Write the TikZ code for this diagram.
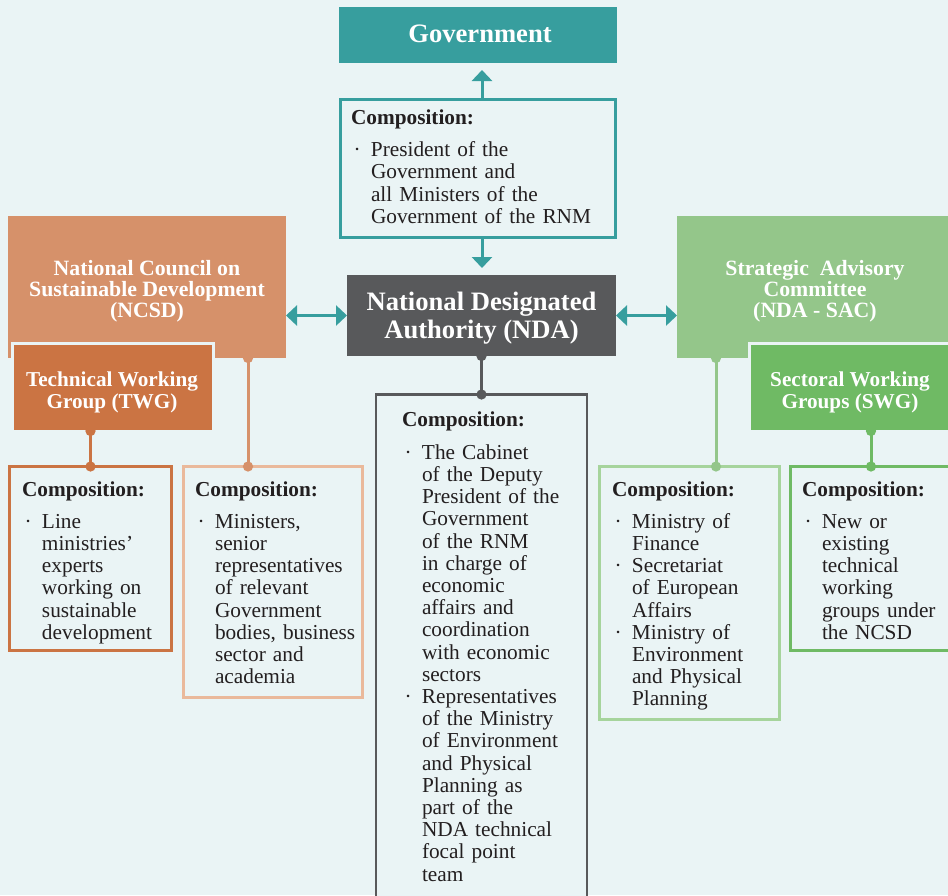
\documentclass[tikz,border=0pt]{standalone}
\usepackage{fontspec}
\setmainfont{Liberation Serif}
\usetikzlibrary{arrows.meta,calc}
\definecolor{bg}{HTML}{EAF4F5}
\definecolor{cteal}{HTML}{379E9E}
\definecolor{cnda}{HTML}{58595B}
\definecolor{cncsd}{HTML}{D6916A}
\definecolor{ctwg}{HTML}{CB7443}
\definecolor{cncsdl}{HTML}{EAB99B}
\definecolor{csac}{HTML}{94C68A}
\definecolor{cswg}{HTML}{6FBA64}
\definecolor{csacl}{HTML}{A6D49C}
\definecolor{ctext}{HTML}{231F20}
\newcommand{\nl}{\hfil\break}
\newcommand{\bitem}[1]{\par\hangindent=20pt\hangafter=1\noindent\makebox[20pt][l]{\hspace{2.5pt}\char"B7}#1\par}
\newcommand{\comphead}[1]{\noindent\textbf{Composition:}\par\vspace{#1}}
\begin{document}
\begin{tikzpicture}[x=1pt,y=-1pt,
  every node/.style={inner sep=0pt, outer sep=0pt},
  box/.style={anchor=north west},
  subbox/.style={box, draw=bg, line width=2.5pt},
  lbl/.style={text=white, align=center, font=\fontsize{21.8}{21}\selectfont\bfseries},
  biglbl/.style={lbl, font=\fontsize{26.6}{28}\selectfont\bfseries},
  sublbl/.style={lbl, font=\fontsize{21.2}{22}\selectfont\bfseries},
  comp/.style={anchor=north west, draw, line width=3pt, fill=bg},
  body/.style={anchor=base west, text width=260pt, font=\fontsize{21.3}{22.2}\selectfont, text=ctext},
  dblarrow/.style={cteal, line width=3pt, {Triangle[width=20pt,length=11pt]}-{Triangle[width=20pt,length=11pt]}},
  uparrow/.style={cteal, line width=3pt, -{Triangle[width=20pt,length=11pt]}, shorten >=7pt},
  conn/.style={line width=3pt, {Circle[length=10pt]}-{Circle[length=10pt]}, shorten <=-5pt, shorten >=-5pt},
]
\fill[bg] (0,0) rectangle (948,895);
\useasboundingbox (0,0) rectangle (948,895);

% title boxes
\node[box, fill=cteal, minimum width=278pt, minimum height=56pt] (gov) at (339,7) {};
\node[box, fill=cnda, minimum width=269pt, minimum height=81pt] (nda) at (347,275) {};
\node[box, fill=cncsd, minimum width=278pt, minimum height=142pt] (ncsd) at (8,216) {};
\node[subbox, fill=ctwg, minimum width=201pt, minimum height=87.5pt] (twg) at (12.5,343.5) {};
\node[box, fill=csac, minimum width=276pt, minimum height=142pt] (sac) at (677,216) {};
\node[subbox, fill=cswg, minimum width=202pt, minimum height=87.5pt] (swg) at (749.5,343.5) {};

% title labels
\node[biglbl] (govl) at (480,34) {Government};
\node[biglbl] (ndal) at (481.5,318.5) {National Designated\\Authority (NDA)};
\node[lbl] (ncsdl) at (147,291) {National Council on\\Sustainable Development\\(NCSD)};
\node[sublbl] (twgl) at (112,392) {Technical Working\\Group (TWG)};
\node[lbl] (sacl) at (815,291) {Strategic~ Advisory\\Committee\\(NDA - SAC)};
\node[sublbl] (swgl) at (850,392) {Sectoral Working\\Groups (SWG)};

% composition boxes
\node[comp, draw=cteal, line width=2.5pt, minimum width=275pt, minimum height=138pt] (govcomp) at (340.5,99.5) {};
\node[comp, draw=cnda, line width=2.5pt, minimum width=211pt, minimum height=530pt] (ndacomp) at (376,394.5) {};
\node[comp, draw=ctwg, minimum width=162pt, minimum height=184pt] (twgcomp) at (9.5,466.5) {};
\node[comp, draw=cncsdl, minimum width=179pt, minimum height=231pt] (ncsdcomp) at (183,466.5) {};
\node[comp, draw=csacl, minimum width=180pt, minimum height=253pt] (saccomp) at (599.5,466.5) {};
\node[comp, draw=cswg, minimum width=200pt, minimum height=184pt] (swgcomp) at (790.5,466.5) {};

% composition texts
\node[body] (govtext) at (351,124.3) {\comphead{10.2pt}\bitem{President of the\nl Government and\nl all Ministers of the\nl Government of the RNM}};
\node[body] (ndatext) at (402,426.7) {\comphead{10.4pt}\bitem{The Cabinet\nl of the Deputy\nl President of the\nl Government\nl of the RNM\nl in charge of\nl economic\nl affairs and\nl coordination\nl with economic\nl sectors}\bitem{Representatives\nl of the Ministry\nl of Environment\nl and Physical\nl Planning as\nl part of the\nl NDA technical\nl focal point\nl team}};
\node[body] (twgtext) at (22,496.7) {\comphead{9.4pt}\bitem{Line\nl ministries'\nl experts\nl working on\nl sustainable\nl development}};
\node[body] (ncsdtext) at (195,496.7) {\comphead{9.4pt}\bitem{Ministers,\nl senior\nl representatives\nl of relevant\nl Government\nl bodies, business\nl sector and\nl academia}};
\node[body] (sactext) at (612,496.7) {\comphead{9.4pt}\bitem{Ministry of\nl Finance}\bitem{Secretariat\nl of European\nl Affairs}\bitem{Ministry of\nl Environment\nl and Physical\nl Planning}};
\node[body] (swgtext) at (802,496.7) {\comphead{9.4pt}\bitem{New or\nl existing\nl technical\nl working\nl groups under\nl the NCSD}};

% arrows
\coordinate (xg) at (482,0);
\draw[uparrow] (xg |- govcomp.north) -- (xg |- gov.south);
\draw[uparrow] (xg |- govcomp.south) -- (xg |- nda.north);
\draw[dblarrow] (nda.west -| ncsd.east) -- (nda.west);
\draw[dblarrow] (nda.east) -- (nda.east -| sac.west);

% connectors
\coordinate (xn) at (248,0);
\coordinate (xs) at (716,0);
\coordinate (xw) at (871,0);
\draw[conn, cnda] (nda.south) -- (ndacomp.north);
\draw[conn, ctwg] (twg.south -| twgcomp.north) -- (twgcomp.north);
\draw[conn, cncsd] (xn |- ncsd.south) -- (xn |- ncsdcomp.north);
\draw[conn, csac] (xs |- sac.south) -- (xs |- saccomp.north);
\draw[conn, cswg] (xw |- swg.south) -- (xw |- swgcomp.north);
\end{tikzpicture}
\end{document}
